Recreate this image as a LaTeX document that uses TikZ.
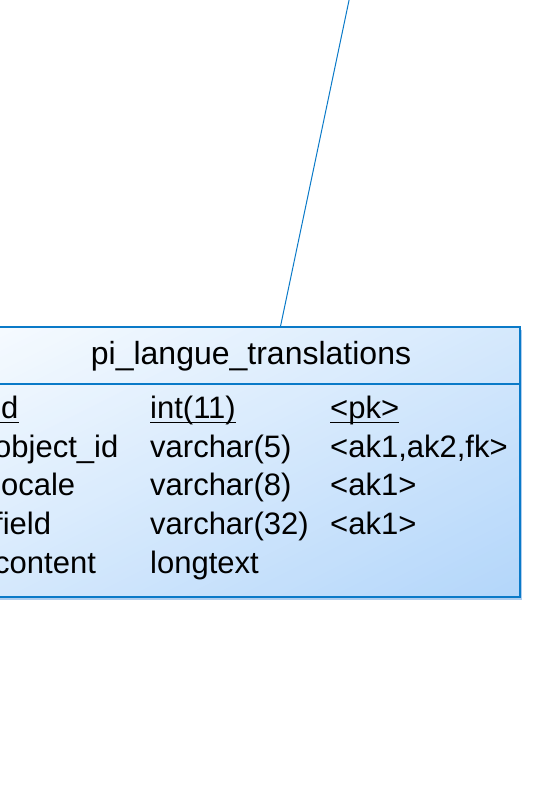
\documentclass[tikz,border=0pt]{standalone}
\usepackage{fontspec}
\setmainfont{Liberation Sans}
\definecolor{bordc}{RGB}{10,122,200}
\definecolor{shadc}{RGB}{175,205,238}
\definecolor{lightc}{RGB}{247,251,255}
\definecolor{darkc}{RGB}{179,214,250}
\begin{document}
\begin{tikzpicture}[x=1pt,y=-1pt,
  tabtext/.style={anchor=base west,inner sep=0pt,font=\fontsize{31}{31}\selectfont,text=black},
  titletext/.style={anchor=base,inner sep=0pt,font=\fontsize{32}{32}\selectfont,text=black},
  link/.style={draw=bordc,line width=1pt},
  uline/.style={draw=black,line width=1.6pt}]
\useasboundingbox (0,0) rectangle (543,792);
% shadow
\fill[shadc] (-18,329.5) rectangle (522,599.5);
% diagonal gradient fill (isolines parallel to the lower-left / upper-right diagonal)
\begin{scope}
  \clip (-18,327) rectangle (520,597);
  \begin{scope}[shift={(-18,327)},xscale=538,yscale=270]
    \foreach \k in {0,...,79}{
      \pgfmathsetmacro\a{\k/40}
      \pgfmathsetmacro\b{(\k+1.3)/40}
      \pgfmathsetmacro\p{(\k+0.5)/80*100}
      \fill[darkc!\p!lightc] (\a+1,-1) -- (\a-2,2) -- (\b-2,2) -- (\b+1,-1) -- cycle;
    }
  \end{scope}
\end{scope}
% table frame
\node[draw=bordc,line width=1.3pt,
      minimum width=538pt,minimum height=270pt,inner sep=0pt] (tbl) at (251,462) {};
\coordinate (sepl) at (-18,384);
\draw[bordc,line width=1.3pt] (sepl) -- (sepl -| tbl.east);
% title
\node[titletext] (title) at (251,364) {pi\_langue\_translations};
% rows
\node[tabtext] (n1) at (-6,418) {id};
\node[tabtext] (t1) at (150,418) {int(11)};
\node[tabtext] (k1) at (330,418) {<pk>};
\node[tabtext] (n2) at (-6,457) {object\_id};
\node[tabtext] (t2) at (150,457) {varchar(5)};
\node[tabtext] (k2) at (330,457) {<ak1,ak2,fk>};
\node[tabtext] (n3) at (-6,495.5) {locale};
\node[tabtext] (t3) at (150,495.5) {varchar(8)};
\node[tabtext] (k3) at (330,495.5) {<ak1>};
\node[tabtext] (n4) at (-6,534) {field};
\node[tabtext] (t4) at (150,534) {varchar(32)};
\node[tabtext] (k4) at (330,534) {<ak1>};
\node[tabtext] (n5) at (-6,573) {content};
\node[tabtext] (t5) at (150,573) {longtext};
% underlines for primary key
\foreach \n in {n1,t1,k1}{
  \draw[uline] ([yshift=-4.5pt]\n.base west) -- ([yshift=-4.5pt]\n.base east);
}
% connector
\coordinate (ltop) at (349.5,-2);
\coordinate (lbot) at (280.5,0);
\draw[link] (ltop) -- (lbot |- tbl.north);
\end{tikzpicture}
\end{document}
